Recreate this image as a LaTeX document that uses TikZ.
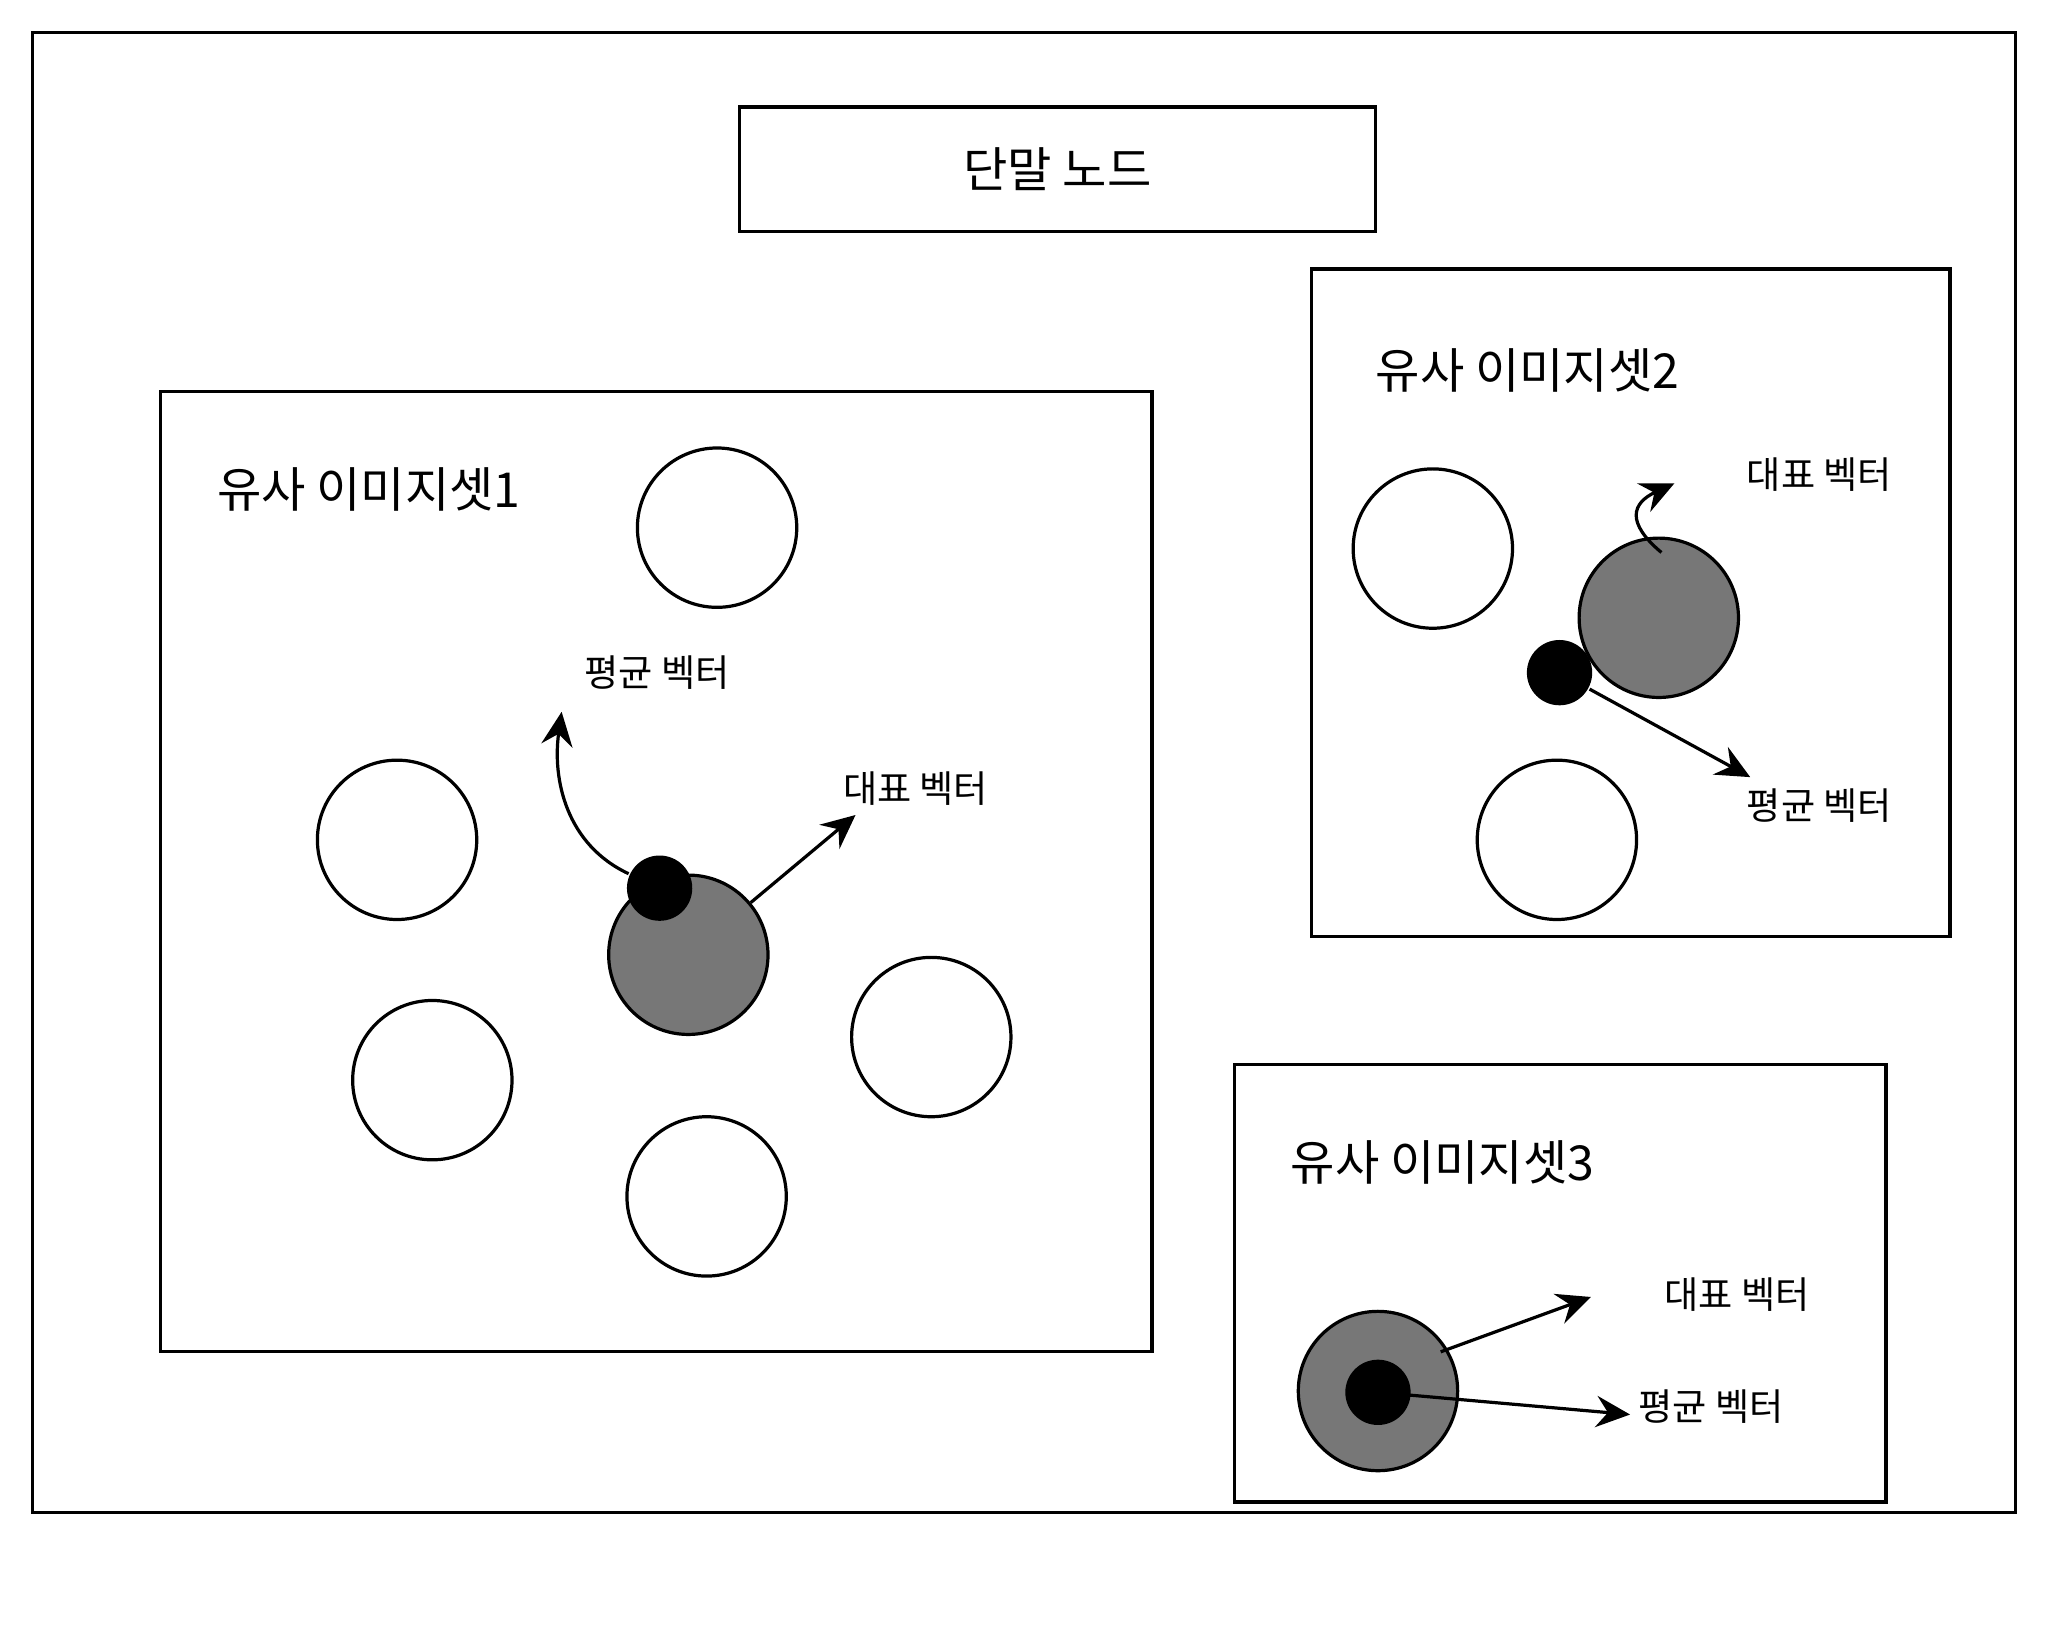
\documentclass[tikz,border=0pt]{standalone}
\usepackage{fontspec}
\setmainfont{Noto Sans CJK KR}
\usetikzlibrary{arrows.meta}
\definecolor{repgray}{HTML}{777777}

\begin{document}
\begin{tikzpicture}[
    line width=0.7pt,
    img/.style={circle, draw, minimum size=1.22cm, inner sep=0pt},
    rep/.style={img, fill=repgray},
    avg/.style={circle, fill=black, minimum size=0.5cm, inner sep=0pt},
    setlabel/.style={anchor=west, inner sep=0pt, font=\fontsize{10.5}{12}\selectfont},
    veclabel/.style={inner sep=0pt, font=\fontsize{8.1}{9}\selectfont},
    >={Stealth[length=2.6mm, width=2.4mm, inset=0.9mm]}
]
    \useasboundingbox (0,0) rectangle (15.68,-12.595);

    % Outer frame and the leaf node
    \draw (0.25,-0.25) rectangle (15.43,-11.58);
    \node[draw, minimum width=4.87cm, minimum height=0.95cm,
          font=\fontsize{10.5}{12}\selectfont] (leaf) at (8.095,-1.295) {단말 노드};

    % Set 1
    \draw (1.23,-3.00) rectangle (8.82,-10.35);
    \node[setlabel] (s1) at (1.65,-3.75) {유사 이미지셋1};
    \node[img] (a1) at (5.49,-4.04) {};
    \node[img] (a2) at (3.04,-6.43) {};
    \node[img] (a3) at (3.31,-8.27) {};
    \node[img] (a4) at (5.41,-9.16) {};
    \node[img] (a5) at (7.13,-7.94) {};
    \node[rep] (r1) at (5.27,-7.31) {};
    \node[avg] (m1) at (5.05,-6.80) {};
    \node[veclabel] (m1lbl) at (5.03,-5.15) {평균 벡터};
    \node[veclabel] (r1lbl) at (7.01,-6.04) {대표 벡터};
    \coordinate (m1tip) at (4.30,-5.45);
    \coordinate (r1tip) at (6.55,-6.24);

    % Set 2
    \draw (10.04,-2.06) rectangle (14.93,-7.17);
    \node[setlabel] (s2) at (10.52,-2.84) {유사 이미지셋2};
    \node[img] (b1) at (10.97,-4.20) {};
    \node[img] (b2) at (11.92,-6.43) {};
    \node[rep] (r2) at (12.70,-4.73) {};
    \node[avg] (m2) at (11.94,-5.15) {};
    \node[veclabel] (r2lbl) at (13.93,-3.63) {대표 벡터};
    \node[veclabel] (m2lbl) at (13.93,-6.17) {평균 벡터};
    \coordinate (r2start) at (12.72,-4.23);
    \coordinate (r2tip) at (12.82,-3.70);
    \coordinate (m2tip) at (13.40,-5.95);

    % Set 3
    \draw (9.45,-8.15) rectangle (14.44,-11.50);
    \node[setlabel] (s3) at (9.87,-8.90) {유사 이미지셋3};
    \node[rep] (r3) at (10.55,-10.65) {};
    \node[avg] (m3) at (10.55,-10.66) {};
    \node[veclabel] (r3lbl) at (13.30,-9.91) {대표 벡터};
    \node[veclabel] (m3lbl) at (13.10,-10.77) {평균 벡터};
    \coordinate (r3start) at (11.03,-10.35);
    \coordinate (r3tip) at (12.18,-9.93);
    \coordinate (m3tip) at (12.48,-10.83);

    % Arrows
    \draw[->] (m1) to[out=155, in=262] (m1tip);
    \draw[->] (r1) -- (r1tip);
    \draw[->] (r2start) to[out=140, in=205, looseness=1.7] (r2tip);
    \draw[->] (m2) -- (m2tip);
    \draw[->] (r3start) -- (r3tip);
    \draw[->] (m3.center) ++(0.23,-0.02) -- (m3tip);

\end{tikzpicture}
\end{document}
